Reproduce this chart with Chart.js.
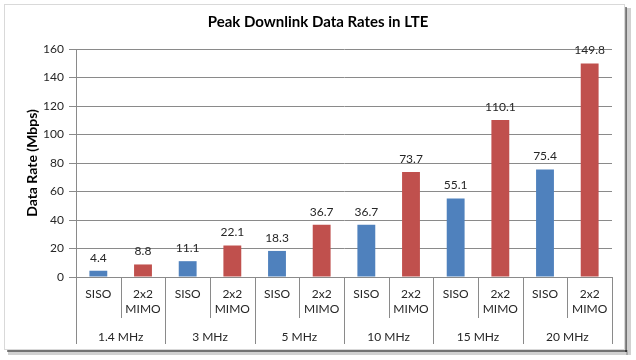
<!DOCTYPE html>
<html>
<head>
<meta charset="utf-8">
<script src="https://cdn.jsdelivr.net/npm/chart.js@4"></script>
<style>
html,body{margin:0;padding:0;background:#ffffff;}
#wrap{position:absolute;left:0;top:0;width:636px;height:360px;}
</style>
</head>
<body>
<div id="wrap"><canvas id="c" width="636" height="360"></canvas></div>
<script>
const categories = [['SISO'], ['2x2', 'MIMO'], ['SISO'], ['2x2', 'MIMO'], ['SISO'], ['2x2', 'MIMO'],
                    ['SISO'], ['2x2', 'MIMO'], ['SISO'], ['2x2', 'MIMO'], ['SISO'], ['2x2', 'MIMO']];
const groups = ['1.4 MHz', '3 MHz', '5 MHz', '10 MHz', '15 MHz', '20 MHz'];
const rates = [4.4, 8.8, 11.1, 22.1, 18.3, 36.7, 36.7, 73.7, 55.1, 110.1, 75.4, 149.8];
const barColors = ['#4F81BD', '#C0504D', '#4F81BD', '#C0504D', '#4F81BD', '#C0504D',
                   '#4F81BD', '#C0504D', '#4F81BD', '#C0504D', '#4F81BD', '#C0504D'];
const yTicks = [0, 20, 40, 60, 80, 100, 120, 140, 160];

const FONT = 'Lato, "Open Sans", sans-serif';
const TXT = '#262626';
const GRID = '#8A8A8A';

const framePlugin = {
  id: 'frame',
  beforeDraw(chart) {
    const ctx = chart.ctx;
    ctx.save();
    ctx.fillStyle = '#ffffff';
    ctx.fillRect(0, 0, chart.width, chart.height);
    // shadow
    ctx.fillStyle = 'rgba(0,0,0,0.18)';
    ctx.fillRect(8, 350, 620, 5);
    ctx.fillRect(626, 8, 5, 347);
    ctx.fillStyle = 'rgba(0,0,0,0.45)';
    ctx.fillRect(7, 350, 620, 2);
    ctx.fillRect(625, 7, 2, 345);
    // border
    ctx.strokeStyle = '#D9D9D9';
    ctx.lineWidth = 1;
    ctx.strokeRect(4.5, 4.5, 620, 345);
    ctx.restore();
  }
};

const annotPlugin = {
  id: 'annot',
  afterDatasetsDraw(chart) {
    const ctx = chart.ctx;
    const meta = chart.getDatasetMeta(0);
    ctx.save();
    ctx.font = '12px ' + FONT;
    ctx.fillStyle = TXT;
    ctx.textAlign = 'center';
    ctx.textBaseline = 'bottom';
    meta.data.forEach((bar, i) => {
      ctx.fillText(rates[i].toFixed(1), bar.x, bar.y - 7);
    });
    ctx.restore();
  },
  afterDraw(chart) {
    const ctx = chart.ctx;
    const x = chart.scales.x;
    const area = chart.chartArea;
    const n = categories.length;
    const edge = i => {
      if (i === 0) return area.left;
      if (i === n) return area.right;
      return (x.getPixelForValue(i - 1) + x.getPixelForValue(i)) / 2;
    };
    ctx.save();
    ctx.strokeStyle = GRID;
    ctx.lineWidth = 1;
    for (let i = 0; i <= n; i++) {
      const px = Math.round(edge(i)) + 0.5;
      const bottom = (i % 2 === 0) ? 344 : 318;
      ctx.beginPath();
      ctx.moveTo(px, area.bottom);
      ctx.lineTo(px, bottom);
      ctx.stroke();
    }
    ctx.font = '12px ' + FONT;
    ctx.fillStyle = TXT;
    ctx.textAlign = 'center';
    ctx.textBaseline = 'middle';
    groups.forEach((g, k) => {
      const cx = (edge(2 * k) + edge(2 * k + 2)) / 2;
      ctx.fillText(g, cx, 337);
    });
    ctx.restore();
  }
};

new Chart(document.getElementById('c'), {
  type: 'bar',
  data: {
    labels: categories,
    datasets: [{
      data: rates,
      backgroundColor: barColors,
      barPercentage: 0.4,
      categoryPercentage: 1.0
    }]
  },
  options: {
    responsive: false,
    animation: false,
    devicePixelRatio: 1,
    layout: { padding: { left: 24, right: 24, top: 0, bottom: 23 } },
    plugins: {
      legend: { display: false },
      tooltip: { enabled: false },
      title: {
        display: true,
        text: 'Peak Downlink Data Rates in LTE',
        color: '#000000',
        font: { family: FONT, size: 15, weight: 'bold' },
        padding: { top: 13, bottom: 18 }
      }
    },
    scales: {
      x: {
        grid: { display: false, drawTicks: false },
        border: { display: true, color: GRID },
        ticks: {
          color: TXT,
          font: { family: FONT, size: 12, lineHeight: 1.3 },
          padding: 9,
          maxRotation: 0,
          autoSkip: false
        },
        afterFit(s) { s.height = 60; }
      },
      y: {
        min: 0,
        max: 160,
        afterBuildTicks(s) { s.ticks = yTicks.map(v => ({ value: v })); },
        grid: { color: GRID, tickLength: 7, drawTicks: true },
        border: { display: true, color: GRID },
        ticks: {
          color: TXT,
          font: { family: FONT, size: 12 },
          padding: 5
        },
        title: {
          display: true,
          text: 'Data Rate (Mbps)',
          color: '#000000',
          font: { family: FONT, size: 14, weight: 'bold' },
          padding: { top: 0, bottom: 4 }
        },
        afterFit(s) { s.width = 52; }
      }
    }
  },
  plugins: [framePlugin, annotPlugin]
});
</script>
</body>
</html>
